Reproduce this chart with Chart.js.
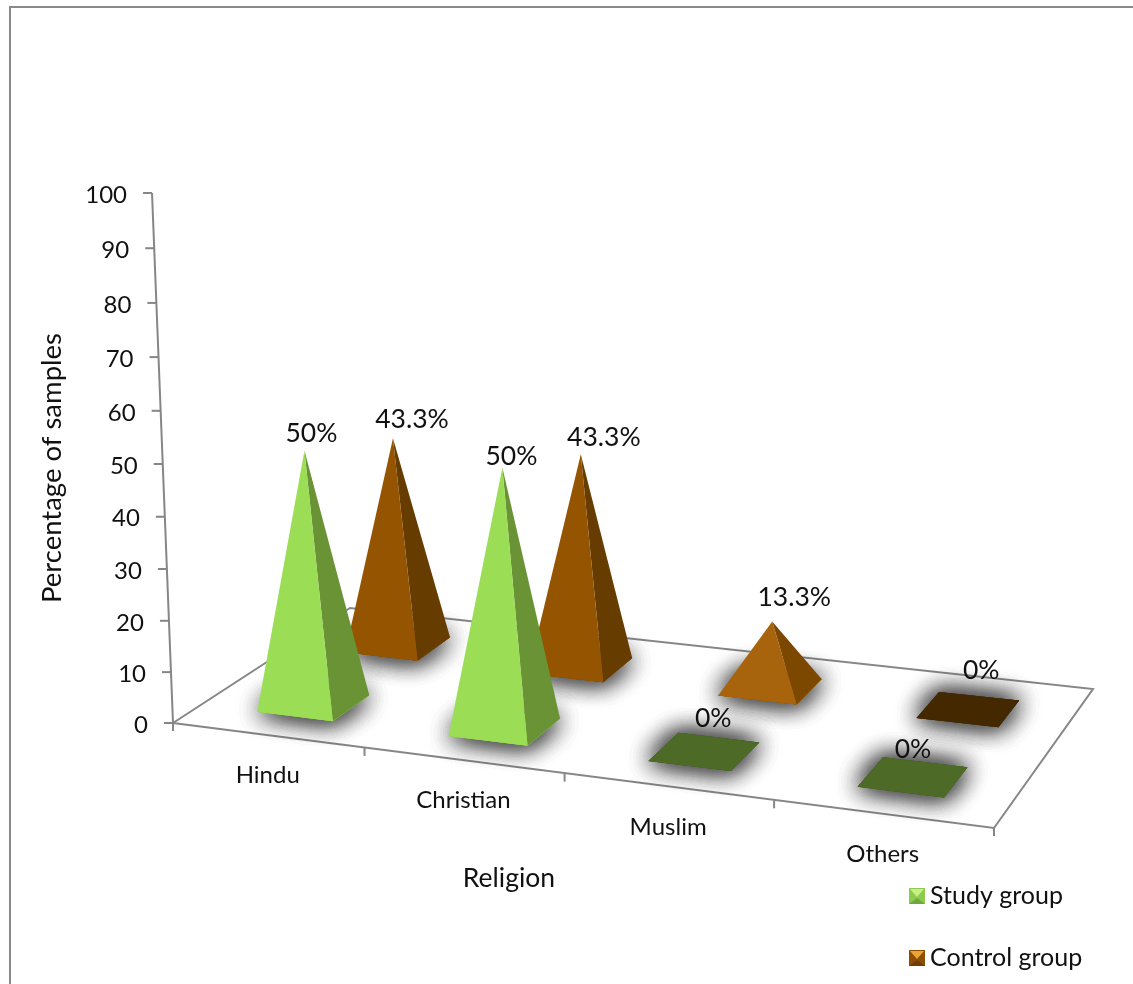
<!DOCTYPE html>
<html>
<head>
<meta charset="utf-8">
<title>Religion</title>
<script src="https://cdn.jsdelivr.net/npm/chart.js@4/dist/chart.umd.js"></script>
<style>
    html, body { margin: 0; padding: 0; background: #fff; }
    canvas { display: block; }
</style>
</head>
<body>
<canvas id="religionChart" width="1133" height="984"></canvas>
<script>
// Chart data
const categories = ['Hindu', 'Christian', 'Muslim', 'Others'];
const studyGroup = [50, 50, 0, 0];
const controlGroup = [43.3, 43.3, 13.3, 0];

const studyFront = ['#9bde56', '#9bde56', '#4d6b27', '#4d6b27'];
const studySide = ['#6a9336', '#6a9336', '#4d6b27', '#4d6b27'];
const controlFront = ['#955500', '#955500', '#a8640c', '#432800'];
const controlSide = ['#663c00', '#663c00', '#7c4800', '#432800'];

// Where each value label sits relative to its pyramid tip
const studyLabelShift = [[7, -17], [9, -11], [9, -33], [0, -27]];
const controlLabelShift = [[19, -19], [23, -17], [22, -24], [13, -39]];

const FONT = 'Lato, "Open Sans", sans-serif';
const TEXT_COLOR = '#111';
const AXIS_COLOR = '#868686';

// Floor corners: front left, front right, back right, back left
const floorCorners = [[173, 723], [994, 828], [1093, 689], [350, 608]];
const depthOfSeries = [0.25, 0.75];
const depthHalf = 0.104;

// Perspective map from the unit square onto the floor
function buildFloorMap(c) {
    const sx = c[0][0] - c[1][0] + c[2][0] - c[3][0];
    const sy = c[0][1] - c[1][1] + c[2][1] - c[3][1];
    const dx1 = c[1][0] - c[2][0], dx2 = c[3][0] - c[2][0];
    const dy1 = c[1][1] - c[2][1], dy2 = c[3][1] - c[2][1];
    const det = dx1 * dy2 - dx2 * dy1;
    const g = (sx * dy2 - dx2 * sy) / det;
    const h = (dx1 * sy - sx * dy1) / det;
    const a = c[1][0] - c[0][0] + g * c[1][0];
    const b = c[3][0] - c[0][0] + h * c[3][0];
    const d = c[1][1] - c[0][1] + g * c[1][1];
    const e = c[3][1] - c[0][1] + h * c[3][1];
    return function(u, v) {
        const w = g * u + h * v + 1;
        // small correction so the middle of the floor does not bunch up to the left
        const bulge = u * (1 - u);
        return {
            x: (a * u + b * v + c[0][0]) / w + 14 * bulge,
            y: (d * u + e * v + c[0][1]) / w + 4 * bulge,
            w: w
        };
    };
}
const floorPoint = buildFloorMap(floorCorners);

// Height above the floor on the back wall; the upper ticks spread out a little
function wallHeight(chart, pixel) {
    const area = chart.chartArea;
    const t = (area.bottom - pixel) / area.height;
    return 506.5 * t / (1 - 0.0443 * t);
}

// Verticals lean away from the middle of the view
function leanX(x, height) {
    return x + height * (x - 570) / 7000;
}

function pyramidTip(chart, bar, depth) {
    const area = chart.chartArea;
    const u = (bar.x - area.left) / area.width;
    const centre = floorPoint(u, depth);
    const height = wallHeight(chart, bar.y) / (centre.w + 0.007);
    return { x: leanX(centre.x, height), y: centre.y - height };
}

function fillPolygon(ctx, points, color) {
    ctx.fillStyle = color;
    ctx.beginPath();
    points.forEach(function(p, i) {
        if (i === 0) ctx.moveTo(p.x, p.y);
        else ctx.lineTo(p.x, p.y);
    });
    ctx.closePath();
    ctx.fill();
}

// Bar controller that renders each element as a pyramid standing on the floor
class PyramidController extends Chart.BarController {
    draw() {
        const chart = this.chart;
        const ctx = chart.ctx;
        const area = chart.chartArea;
        const depth = depthOfSeries[this.index];

        this.getMeta().data.forEach(function(bar) {
            const u = (bar.x - area.left) / area.width;
            const du = bar.width / 2 / area.width;
            const frontLeft = floorPoint(u - du, depth - depthHalf);
            const frontRight = floorPoint(u + du, depth - depthHalf);
            const backRight = floorPoint(u + du, depth + depthHalf);
            const backLeft = floorPoint(u - du, depth + depthHalf);
            const base = [frontLeft, frontRight, backRight, backLeft];
            const tip = pyramidTip(chart, bar, depth);

            // soft grey shadow on the floor, built up in a few passes
            ctx.save();
            ctx.shadowColor = 'rgba(70, 70, 70, 0.7)';
            ctx.shadowBlur = 24;
            for (let pass = 0; pass < 4; pass++) {
                fillPolygon(ctx, base, bar.options.backgroundColor);
            }
            ctx.restore();

            if (bar.base - bar.y > 0) {
                fillPolygon(ctx, [frontRight, backRight, tip], bar.options.borderColor);
                fillPolygon(ctx, [frontLeft, frontRight, tip], bar.options.backgroundColor);
            }
        });
    }
}
PyramidController.id = 'pyramid';
PyramidController.defaults = Chart.BarController.defaults;
PyramidController.overrides = Chart.BarController.overrides;
Chart.register(PyramidController);

function strokeLine(ctx, x1, y1, x2, y2) {
    ctx.beginPath();
    ctx.moveTo(x1, y1);
    ctx.lineTo(x2, y2);
    ctx.stroke();
}

function drawText(ctx, text, x, y, size, align) {
    ctx.font = size + 'px ' + FONT;
    ctx.fillStyle = TEXT_COLOR;
    ctx.textAlign = align || 'center';
    ctx.textBaseline = 'middle';
    ctx.fillText(text, x, y);
}

// Outer frame, floor and both axes go under the pyramids
const axesPlugin = {
    id: 'axes3d',
    beforeDatasetsDraw(chart) {
        const ctx = chart.ctx;
        const area = chart.chartArea;
        const yScale = chart.scales.y;

        ctx.save();
        ctx.strokeStyle = '#8a8a8a';
        ctx.lineWidth = 2;
        strokeLine(ctx, 10, 984, 10, 7);
        strokeLine(ctx, 9, 7, 1133, 7);

        ctx.strokeStyle = AXIS_COLOR;
        ctx.lineWidth = 2;
        ctx.beginPath();
        floorCorners.forEach(function(p) { ctx.lineTo(p[0], p[1]); });
        ctx.closePath();
        ctx.stroke();

        // Value axis
        const axisX = function(height) { return area.left - height * 0.0396; };
        strokeLine(ctx, area.left, area.bottom, axisX(wallHeight(chart, area.top)), area.bottom - wallHeight(chart, area.top));
        yScale.ticks.forEach(function(tick) {
            const h = wallHeight(chart, yScale.getPixelForValue(tick.value));
            const x = axisX(h);
            const y = area.bottom - h;
            strokeLine(ctx, x - 9, y, x, y);
            drawText(ctx, String(tick.value), x - 25, y + 2, 24, 'right');
        });

        // Category axis
        categories.forEach(function(name, i) {
            const p = floorPoint((i + 0.5) / categories.length, 0);
            drawText(ctx, name, p.x, p.y + 40, 24);
        });
        for (let i = 0; i <= categories.length; i++) {
            const p = floorPoint(i / categories.length, 0);
            strokeLine(ctx, p.x, p.y, p.x, p.y + 8);
        }

        drawText(ctx, 'Religion', 509, 878, 26.5);
        ctx.translate(52, 468);
        ctx.rotate(-Math.PI / 2);
        drawText(ctx, 'Percentage of samples', 0, 0, 27.5);
        ctx.restore();
    },
    afterDatasetsDraw(chart) {
        const ctx = chart.ctx;
        ctx.save();
        chart.data.datasets.forEach(function(dataset, d) {
            const shifts = d === 0 ? studyLabelShift : controlLabelShift;
            chart.getDatasetMeta(d).data.forEach(function(bar, i) {
                const tip = pyramidTip(chart, bar, depthOfSeries[d]);
                drawText(ctx, dataset.data[i] + '%', tip.x + shifts[i][0], tip.y + shifts[i][1], 26.5);
            });
        });

        // Legend with small pyramid swatches: body, lit top, darker bottom
        const legendIcons = [['#8ccb4e', '#c6ef84', '#6fa83c'], ['#8c4f02', '#eda235', '#6f3f02']];
        chart.data.datasets.forEach(function(dataset, d) {
            const y = 896 + d * 62;
            const x = 909;
            ctx.fillStyle = legendIcons[d][0];
            ctx.fillRect(x, y - 8, 16, 16);
            fillPolygon(ctx, [{ x: x + 1, y: y - 7 }, { x: x + 15, y: y - 7 }, { x: x + 8, y: y + 1 }], legendIcons[d][1]);
            fillPolygon(ctx, [{ x: x, y: y + 8 }, { x: x + 16, y: y + 8 }, { x: x + 8, y: y + 2 }], legendIcons[d][2]);
            drawText(ctx, dataset.label, 930, y, 25, 'left');
        });
        ctx.restore();
    }
};

new Chart(document.getElementById('religionChart'), {
    type: 'pyramid',
    data: {
        labels: categories,
        datasets: [
            {
                label: 'Study group',
                data: studyGroup,
                backgroundColor: studyFront,
                borderColor: studySide,
                grouped: false,
                clip: false,
                categoryPercentage: 1,
                barPercentage: 0.4
            },
            {
                label: 'Control group',
                data: controlGroup,
                backgroundColor: controlFront,
                borderColor: controlSide,
                grouped: false,
                clip: false,
                categoryPercentage: 1,
                barPercentage: 0.4
            }
        ]
    },
    options: {
        responsive: false,
        animation: false,
        layout: {
            padding: { left: 173, right: 139, top: 193, bottom: 261 }
        },
        scales: {
            x: { display: false, offset: true },
            y: { display: false, min: 0, max: 100, ticks: { stepSize: 10 } }
        },
        plugins: {
            legend: { display: false },
            tooltip: { enabled: false }
        }
    },
    plugins: [axesPlugin]
});
</script>
</body>
</html>
